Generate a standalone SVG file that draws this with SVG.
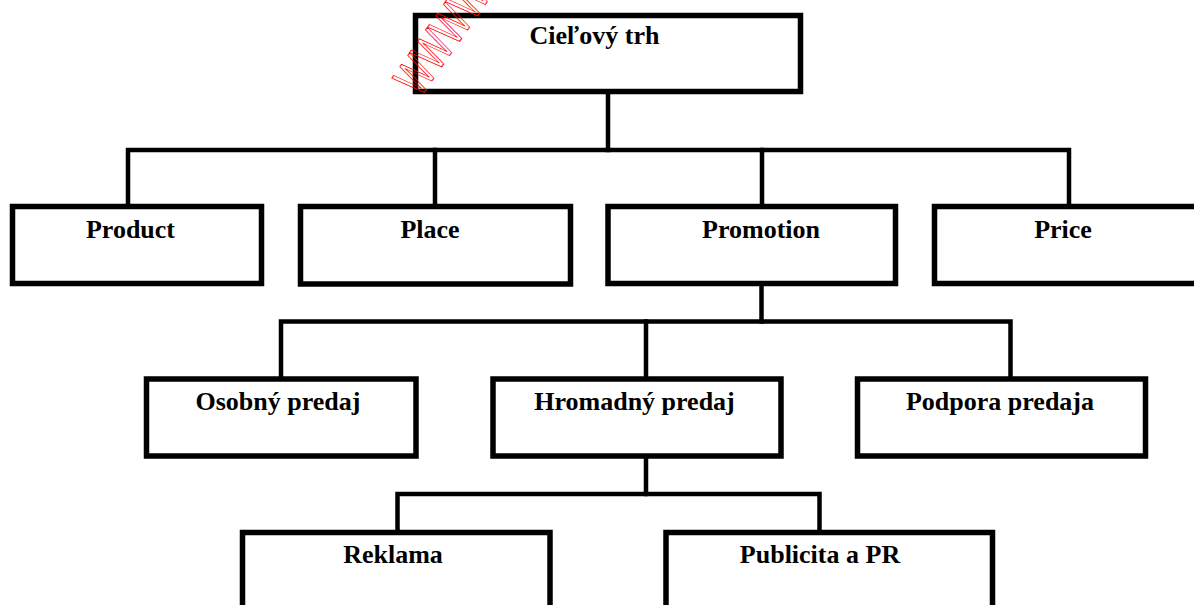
<svg xmlns="http://www.w3.org/2000/svg" width="1194" height="605" viewBox="0 0 1194 605">
<style>
.box{fill:#fff;stroke:#000;stroke-width:5.5}
.lbl{font-family:"Liberation Serif","Times New Roman",serif;font-weight:bold;font-size:26px;fill:#000;text-anchor:middle}
.conn{fill:none;stroke:#000;stroke-width:4.5;stroke-linecap:square}
.wm{font-family:"Liberation Sans",Arial,sans-serif;font-size:50px;fill:none;stroke:#ff0000;stroke-width:1}
</style>
<rect width="1194" height="605" fill="#fff"/>
<g id="connectors" class="conn">
<path d="M608,94 V150"/>
<path d="M128,205 V150 H1069 V205"/>
<path d="M435,150 V205"/>
<path d="M762,150 V205"/>
<path d="M761.5,286 V321.5"/>
<path d="M281,378 V321.5 H1010.5 V378"/>
<path d="M646,321.5 V378"/>
<path d="M646,458 V494"/>
<path d="M397.5,531 V494 H819.5 V531"/>
</g>
<g id="node-cielovy-trh"><rect class="box" x="415.5" y="15.5" width="385" height="76"/><text class="lbl" x="594.5" y="44">Cieľový trh</text></g>
<g id="node-product"><rect class="box" x="12.5" y="206.5" width="249" height="77"/><text class="lbl" x="130.5" y="238">Product</text></g>
<g id="node-place"><rect class="box" x="300.5" y="206.5" width="270" height="77.5"/><text class="lbl" x="430" y="238">Place</text></g>
<g id="node-promotion"><rect class="box" x="608" y="206.5" width="287.5" height="77"/><text class="lbl" x="761" y="238">Promotion</text></g>
<g id="node-price"><rect class="box" x="934.5" y="206.5" width="300" height="77"/><text class="lbl" x="1063" y="238">Price</text></g>
<g id="node-osobny-predaj"><rect class="box" x="146.5" y="379" width="269.5" height="77"/><text class="lbl" x="278" y="410">Osobný predaj</text></g>
<g id="node-hromadny-predaj"><rect class="box" x="493" y="379" width="288" height="77"/><text class="lbl" x="634.5" y="410">Hromadný predaj</text></g>
<g id="node-podpora-predaja"><rect class="box" x="857.5" y="379" width="288" height="77"/><text class="lbl" x="1000" y="410">Podpora predaja</text></g>
<g id="node-reklama"><rect class="box" x="242.5" y="532.5" width="307.5" height="100"/><text class="lbl" x="393" y="563">Reklama</text></g>
<g id="node-publicita"><rect class="box" x="666" y="532.5" width="326.5" height="100"/><text class="lbl" x="820" y="563">Publicita a PR</text></g>
<text class="wm" transform="translate(420,98) rotate(-55) scale(0.66,1)">WWWW</text>
</svg>
